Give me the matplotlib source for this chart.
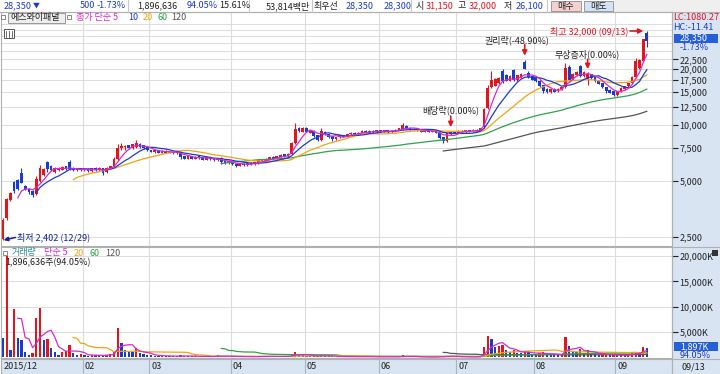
import numpy as np
import pandas as pd
import matplotlib
matplotlib.use("Agg")
import matplotlib.pyplot as plt
from matplotlib.patches import Rectangle
from matplotlib.lines import Line2D
from matplotlib.ticker import FixedLocator, FuncFormatter, NullLocator

plt.rcParams['font.family'] = ['Noto Sans CJK KR', 'DejaVu Sans']

# Daily candles 2015/12/29 ~ 2016/09/13 (Dec, Jan, Feb, ... Sep)
opens = [2450, 3150,
         3950, 4950, 5050, 5500, 4700, 4550, 4400, 4250, 5000, 5400, 6300, 6000, 5600, 5700, 5750, 6000, 6300, 5900, 5700, 5850,
         5700, 5800, 5650, 5900, 5700, 5850, 5600, 5850, 6000, 6600, 7500, 7600, 7800, 7500, 7600, 7950, 7800, 7600,
         7300, 7150, 7300, 7100, 7250, 7100, 7200, 7050, 7200, 6800, 6600, 6800, 6600, 6800, 6700, 6500, 6700, 6600, 6450, 6650, 6400, 6250,
         6350, 6200, 6050, 6200, 6100, 6250, 6150, 6250, 6500, 6400, 6550, 6750, 6600, 6750, 6950, 6800, 7000, 8000, 9600, 9200,
         9600, 9100, 9300, 8800, 8300, 9200, 8900, 8700, 8400, 8600, 8800, 8650, 8900, 9100, 8900, 9100, 9300, 9100, 9300, 9150,
         9400, 9200, 9350, 9150, 9300, 9400, 9500, 9900, 9650, 9400, 9550, 9400, 9200, 9350, 9200, 9300, 9100, 8600, 8200, 8900, 9200,
         9050, 9300, 9150, 9400, 9200, 9450, 9300, 9700, 12300, 16000, 16300, 16800, 19500, 18500, 17300, 19700, 17400, 18000, 21800, 19000, 18300,
         17800, 17300, 16400, 15600, 15000, 15700, 15200, 15600, 16000, 20500, 17600, 18500, 20800, 18300, 17500, 18800, 18000, 17300, 16800, 16000, 15500, 15200,
         14500, 15100, 15600, 16200, 16800, 18000, 20200, 22000, 31150]
highs = [3150, 4050,
         4350, 5000, 5100, 5850, 4750, 4600, 4450, 5300, 6100, 5900, 6400, 6100, 5950, 5950, 6000, 6050, 6500, 5950, 5900, 5900,
         5850, 5850, 5900, 5950, 5950, 5900, 5950, 6050, 6700, 7900, 8000, 7800, 7850, 7950, 8300, 8000, 7850, 7650,
         7350, 7350, 7350, 7300, 7300, 7250, 7250, 7200, 7200, 6850, 6850, 6850, 6800, 6850, 6750, 6750, 6750, 6650, 6650, 6700, 6450, 6450,
         6400, 6250, 6250, 6250, 6300, 6300, 6350, 6550, 6550, 6650, 6750, 6800, 6850, 6950, 7000, 7050, 8100, 10200, 9800, 9700,
         9700, 9450, 9350, 8850, 9600, 9250, 8950, 8750, 8650, 8850, 8850, 8950, 9150, 9150, 9150, 9350, 9350, 9350, 9350, 9450,
         9450, 9400, 9400, 9350, 9500, 9650, 10300, 9950, 9700, 9600, 9600, 9450, 9400, 9400, 9350, 9350, 9150, 8650, 9050, 9250, 9250,
         9350, 9350, 9450, 9450, 9500, 9500, 9650, 12300, 16400, 19500, 17800, 18000, 20000, 18700, 18500, 20000, 18600, 19000, 22400, 19500, 18400,
         17900, 17400, 16500, 15800, 15700, 15800, 15800, 16100, 21500, 21000, 19000, 19400, 21000, 19400, 19300, 18900, 18100, 17400, 16900, 16100, 15600, 15300,
         15300, 16000, 16300, 16900, 18400, 22800, 22500, 29100, 32000]
lows = [2402, 3100,
        3900, 4300, 4450, 4850, 4450, 4250, 4100, 4200, 4950, 5300, 5600, 5650, 5550, 5650, 5700, 5750, 5700, 5650, 5650, 5650,
        5650, 5600, 5600, 5650, 5650, 5400, 5550, 5800, 5950, 6500, 7300, 7350, 7400, 7450, 7550, 7550, 7450, 7250,
        7150, 7100, 7050, 7050, 7050, 7050, 7000, 7000, 6600, 6550, 6550, 6550, 6550, 6600, 6450, 6450, 6500, 6400, 6400, 6200, 6200, 6200,
        6100, 5950, 6000, 6050, 6050, 6100, 6100, 6200, 6350, 6350, 6500, 6550, 6550, 6700, 6750, 6750, 6950, 7900, 9200, 9150,
        9150, 9050, 8650, 8200, 8250, 8850, 8550, 8200, 8350, 8550, 8600, 8600, 8850, 8850, 8850, 9050, 9050, 9050, 9100, 9100,
        9150, 9150, 9100, 9100, 9250, 9350, 9450, 9550, 9350, 9350, 9300, 9150, 9150, 9150, 9150, 9050, 8400, 8000, 8150, 8850, 9000,
        9000, 9100, 9100, 9150, 9150, 9200, 9250, 9650, 12200, 15800, 16200, 16700, 16900, 17200, 17200, 17300, 17300, 17900, 19900, 17800, 17400,
        17100, 16100, 14800, 14900, 14900, 15000, 15100, 15500, 15900, 17400, 17500, 18400, 18200, 18200, 16500, 17700, 17100, 16600, 15900, 14800, 14800, 14300,
        14400, 15000, 15500, 16100, 16700, 17800, 20000, 21700, 26100]
closes = [3100, 4000,
          4300, 4400, 4500, 4900, 4500, 4350, 4200, 5100, 5900, 5800, 5800, 5700, 5900, 5900, 5950, 5800, 5800, 5700, 5850, 5700,
          5800, 5650, 5850, 5700, 5900, 5550, 5900, 6000, 6600, 7500, 7700, 7700, 7500, 7900, 8000, 7600, 7500, 7300,
          7200, 7300, 7100, 7250, 7100, 7200, 7050, 7150, 6700, 6600, 6800, 6600, 6750, 6650, 6500, 6700, 6550, 6450, 6600, 6300, 6250, 6400,
          6150, 6050, 6200, 6100, 6250, 6150, 6300, 6500, 6400, 6600, 6700, 6600, 6800, 6900, 6800, 7000, 8000, 9500, 9300, 9600,
          9200, 9400, 8700, 8300, 9300, 8900, 8600, 8400, 8600, 8800, 8650, 8900, 9100, 8900, 9100, 9300, 9100, 9300, 9150, 9400,
          9200, 9350, 9150, 9300, 9450, 9600, 10000, 9600, 9400, 9550, 9350, 9200, 9350, 9200, 9300, 9100, 8500, 8200, 9000, 9200, 9050,
          9300, 9150, 9400, 9200, 9450, 9250, 9600, 12200, 15800, 17500, 17600, 17800, 17200, 17300, 18400, 17400, 18500, 18800, 20000, 18000, 17500,
          17200, 16200, 15300, 15000, 15600, 15100, 15700, 16000, 20200, 17500, 18800, 19200, 18300, 19300, 18800, 17800, 17200, 16700, 16000, 15200, 14900, 14500,
          15200, 15900, 16200, 16800, 18200, 22000, 22300, 28850, 28350]
# volume in thousand shares
volumes = [3900, 19900,
           1480, 9580, 3790, 3460, 1150, 490, 820, 7870, 9840, 3500, 3650, 1940, 1150, 490, 1150, 1350, 2470, 820, 490, 620,
           450, 350, 500, 400, 450, 380, 550, 700, 1100, 5890, 2920, 1500, 1200, 1000, 1800, 900, 600, 500,
           400, 350, 300, 350, 250, 300, 250, 200, 450, 300, 250, 200, 220, 180, 200, 250, 180, 150, 490, 250, 200, 180,
           200, 250, 180, 150, 170, 130, 160, 300, 200, 250, 230, 180, 220, 250, 200, 300, 600, 1000, 500, 400,
           300, 250, 300, 350, 500, 250, 200, 250, 150, 180, 120, 150, 200, 130, 150, 180, 120, 140, 110, 150,
           120, 130, 110, 120, 140, 180, 400, 250, 150, 130, 100, 110, 90, 80, 100, 90, 300, 350, 280, 200, 150,
           120, 100, 130, 110, 150, 120, 250, 2000, 4200, 3700, 2000, 2200, 2500, 1500, 1000, 1400, 900, 800, 1200, 1100, 700,
           600, 800, 1000, 700, 600, 500, 450, 500, 4000, 2200, 1300, 1000, 1600, 900, 1500, 800, 600, 500, 550, 700, 450, 500,
           400, 450, 400, 600, 900, 1150, 900, 2017, 1897]

month_labels = ['2015/12', '02', '03', '04', '05', '06', '07', '08', '09']
month_starts = [0, 22, 40, 62, 82, 102, 123, 144, 166]
price_ticks = [2500, 5000, 7500, 10000, 12500, 15000, 17500, 20000, 22500]
vol_ticks = [5000, 10000, 15000, 20000]

RED = '#e3141c'
BLUE = '#1a3ccc'
MAG = '#d62ad0'
ORANGE = '#f2a30f'
GREEN = '#2fa24a'
GRAY = '#555555'
GRID = '#dcdcdc'
PANEL = '#d8e4f1'
DARK = '#222222'

W, H = 720, 374
fig = plt.figure(figsize=(W / 100, H / 100), dpi=100)
fig.patch.set_facecolor('white')


def box(x0, y0, x1, y1):
    return [x0 / W, 1 - y1 / H, (x1 - x0) / W, (y1 - y0) / H]


def ftext(x, y, s, **kw):
    kw.setdefault('fontsize', 6.5)
    kw.setdefault('va', 'center')
    kw.setdefault('color', DARK)
    fig.text(x / W, 1 - y / H, s, **kw)


def frect(x0, y0, x1, y1, **kw):
    kw.setdefault('zorder', -1)
    fig.add_artist(Rectangle((x0 / W, 1 - y1 / H), (x1 - x0) / W, (y1 - y0) / H,
                             transform=fig.transFigure, **kw))


def fline(x0, y0, x1, y1, **kw):
    kw.setdefault('color', '#b0b0b0')
    kw.setdefault('lw', 0.8)
    fig.add_artist(Line2D([x0 / W, x1 / W], [1 - y0 / H, 1 - y1 / H],
                          transform=fig.transFigure, **kw))


n = len(closes)
idx = np.arange(n)
close_s = pd.Series(closes, dtype=float)
vol_s = pd.Series(volumes, dtype=float)
xlim = (-0.54, 180.8)

# backgrounds
frect(672, 12, 720, 374, facecolor=PANEL, edgecolor='none')
frect(614, 0, 720, 12, facecolor='#efefef', edgecolor='none')
fline(0, 11.5, 720, 11.5)
fline(672, 12, 672, 374)
fline(672, 246.5, 720, 246.5)
fline(672, 358.5, 720, 358.5)

# ---------------- price pane ----------------
ax = fig.add_axes(box(1, 12, 672, 246))
ax.set_yscale('log')
ax.set_xlim(*xlim)
ax.set_ylim(2236, 40490)
for v in range(2500, 35001, 2500):
    ax.axhline(v, color=GRID, lw=0.7, zorder=0)
for s in month_starts[1:]:
    ax.axvline(s - 0.5, color=GRID, lw=0.8, zorder=0)

cols = [RED if c >= o else BLUE for o, c in zip(opens, closes)]
bottoms = np.minimum(opens, closes)
heights = np.abs(np.array(closes) - np.array(opens))
ax.vlines(idx, lows, highs, colors=cols, lw=0.8, zorder=2)
ax.bar(idx, heights, bottom=bottoms, width=0.75, color=cols, linewidth=0, zorder=2)

for w, c in [(120, GRAY), (60, GREEN), (20, ORANGE), (10, BLUE), (5, MAG)]:
    ax.plot(idx, close_s.rolling(w).mean(), color=c, lw=0.9, zorder=3)

ax.set_xticks([])
ax.yaxis.tick_right()
ax.yaxis.set_major_locator(FixedLocator(price_ticks))
ax.yaxis.set_minor_locator(NullLocator())
ax.yaxis.set_major_formatter(FuncFormatter(lambda v, p: f'{v:,.0f}'))
ax.tick_params(axis='y', direction='out', length=4, width=0.8, pad=1.5,
               labelsize=6.5, colors=DARK)
for sp in ax.spines.values():
    sp.set_color('#b0b0b0')
    sp.set_linewidth(0.8)

# event markers
arrow_kw = dict(arrowstyle='-|>', color=RED, lw=1.2, mutation_scale=7, shrinkA=0)
ax.annotate('', xy=(141, highs[141]), xytext=(0, 11), textcoords='offset points',
            arrowprops=dict(arrow_kw, shrinkB=3))
ax.annotate('권리락(-48.90%)', xy=(141, highs[141]), xytext=(-5.5, 14), textcoords='offset points',
            ha='center', va='center', fontsize=6.5, color=DARK)
ax.annotate('', xy=(158, highs[158]), xytext=(0, 9), textcoords='offset points',
            arrowprops=dict(arrow_kw, shrinkB=2))
ax.annotate('무상증자(0.00%)', xy=(158, highs[158]), xytext=(0, 12.5), textcoords='offset points',
            ha='center', va='center', fontsize=6.5, color=DARK)
ax.annotate('', xy=(121, highs[121]), xytext=(0, 11), textcoords='offset points',
            arrowprops=dict(arrow_kw, shrinkB=3))
ax.annotate('배당락(0.00%)', xy=(121, highs[121]), xytext=(0, 15), textcoords='offset points',
            ha='center', va='center', fontsize=6.5, color=DARK)

ax.annotate('', xy=(174, highs[174]), xytext=(-12, 0), textcoords='offset points',
            arrowprops=dict(arrow_kw, shrinkB=2.5))
ax.annotate('최고 32,000 (09/13)', xy=(174, highs[174]), xytext=(-13.5, 0), textcoords='offset points',
            ha='right', va='center', fontsize=6.5, color=RED)
ax.annotate('', xy=(0, lows[0]), xytext=(9, 2), textcoords='offset points',
            arrowprops=dict(arrowstyle='-|>', color='#1020a0', lw=1.1, mutation_scale=6,
                            shrinkA=0, shrinkB=0.5))
ax.annotate('최저 2,402 (12/29)', xy=(0, lows[0]), xytext=(10, 2), textcoords='offset points',
            ha='left', va='center', fontsize=6.5, color='#1020a0')

# ---------------- volume pane ----------------
axv = fig.add_axes(box(1, 247, 672, 358))
axv.set_xlim(*xlim)
axv.set_ylim(-100, 21770)
for v in vol_ticks:
    axv.axhline(v, color=GRID, lw=0.7, zorder=0)
for s in month_starts[1:]:
    axv.axvline(s - 0.5, color=GRID, lw=0.8, zorder=0)
vcols = [BLUE] + [RED if volumes[i] > volumes[i - 1] else BLUE for i in range(1, n)]
axv.bar(idx, volumes, width=0.6, color=vcols, linewidth=0, zorder=2)
for w, c in [(120, GRAY), (60, GREEN), (20, ORANGE), (5, MAG)]:
    axv.plot(idx, vol_s.rolling(w).mean(), color=c, lw=0.9, zorder=3)
axv.set_xticks([])
axv.yaxis.tick_right()
axv.yaxis.set_major_locator(FixedLocator(vol_ticks))
axv.yaxis.set_major_formatter(FuncFormatter(lambda v, p: f'{v:,.0f}K'))
axv.tick_params(axis='y', direction='out', length=4, width=0.8, pad=1.5,
                labelsize=6.5, colors=DARK)
for sp in axv.spines.values():
    sp.set_color('#b0b0b0')
    sp.set_linewidth(0.8)

# ---------------- date row ----------------
axx = fig.add_axes(box(1, 359, 672, 374))
axx.set_facecolor(PANEL)
axx.set_xlim(*xlim)
axx.set_ylim(0, 1)
axx.set_xticks([])
axx.set_yticks([])
for sp in axx.spines.values():
    sp.set_color('#b0b0b0')
    sp.set_linewidth(0.8)
for s, lab in zip(month_starts, month_labels):
    if s > 0:
        axx.axvline(s - 0.5, color='#a8b4c4', lw=0.8)
    axx.text(max(s - 0.5, -0.3) + 0.5, 0.5, lab, fontsize=6.5, va='center', ha='left', color=DARK)
ftext(681, 367, '09/13')

# ---------------- top info bar ----------------
ftext(4, 6, '28,350', color=BLUE)
ftext(33, 6, '▼', color=BLUE, fontsize=5)
ftext(80, 6, '500', color=BLUE)
ftext(97, 6, '-1.73%', color=BLUE)
ftext(137, 6, '1,896,636')
ftext(187, 6, '94.05%', color=BLUE)
ftext(219, 6, '15.61%')
ftext(266, 6, '53,814백만')
ftext(314, 6, '최우선')
ftext(346, 6, '28,350', color=BLUE)
ftext(384, 6, '28,300', color=BLUE)
ftext(416, 6, '시')
ftext(426, 6, '31,150', color=RED)
ftext(458, 6, '고')
ftext(469, 6, '32,000', color=RED)
ftext(504, 6, '저')
ftext(516, 6, '26,100', color=BLUE)
for xs in [128, 249, 312, 411, 547]:
    fline(xs, 0, xs, 11.5, color='#c8c8c8')
frect(551, 1, 581, 11, facecolor='#f6cfcf', edgecolor='#9a9a9a', lw=0.7, zorder=2)
frect(584, 1, 613, 11, facecolor='#d3e3f7', edgecolor='#9a9a9a', lw=0.7, zorder=2)
ftext(566, 6, '매수', ha='center')
ftext(598.5, 6, '매도', ha='center')

# price legend row
frect(1, 15, 5, 19, facecolor='white', edgecolor='#777777', lw=0.6, zorder=2)
frect(8, 12.5, 65, 23, facecolor='#eeeeee', edgecolor='#8a8a8a', lw=0.6, zorder=2)
ftext(10, 17.5, '에스와이패널')
frect(67, 15, 71, 19, facecolor='white', edgecolor='#777777', lw=0.6, zorder=2)
ftext(76, 17.5, '종가 단순 5', color=MAG)
ftext(128, 17.5, '10', color=BLUE)
ftext(143, 17.5, '20', color=ORANGE)
ftext(157, 17.5, '60', color=GREEN)
ftext(171, 17.5, '120', color=GRAY)
frect(4, 29, 14, 38, facecolor='white', edgecolor='#555555', lw=0.7, zorder=2)
for gx in [6.5, 9, 11.5]:
    fline(gx, 31, gx, 37, color='#555555', lw=0.6, zorder=3)

# right price panel labels
ftext(673, 18, 'LC:1080.27', color=RED)
ftext(673, 28, 'HC:-11.41', color=BLUE)
frect(674, 34, 718, 42.5, facecolor='#2660d8', edgecolor='none', zorder=2)
ftext(680, 38, '28,350', color='white')
ftext(680, 48, '-1.73%', color=BLUE)

# volume legend
frect(3, 251, 7, 255, facecolor='white', edgecolor='#777777', lw=0.6, zorder=2)
ftext(12, 253, '거래량', color='#2a8c8c')
ftext(44, 253, '단순 5', color=MAG)
ftext(74, 253, '20', color=ORANGE)
ftext(89, 253, '60', color=GREEN)
ftext(105, 253, '120', color=GRAY)
ftext(5, 263, '1,896,636주(94.05%)')
frect(712, 250, 718, 256, facecolor='#333333', edgecolor='none', zorder=2)
frect(674, 342, 718, 351, facecolor='#2660d8', edgecolor='none', zorder=2)
ftext(680, 346.5, '1,897K', color='white')
ftext(680, 355, '94.05%', color=BLUE)

fig.savefig('out.png', dpi=100)
